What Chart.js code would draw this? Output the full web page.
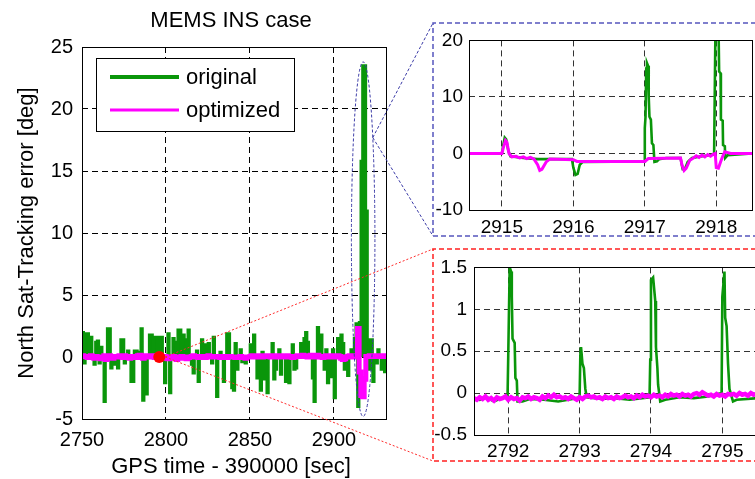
<!DOCTYPE html>
<html>
<head>
<meta charset="utf-8">
<title>MEMS INS case</title>
<script src="https://cdn.jsdelivr.net/npm/chart.js@4.4.1/dist/chart.umd.min.js"></script>
<style>
  html, body { margin: 0; padding: 0; background: #fff; overflow: hidden; }
  #wrap { position: relative; width: 755px; height: 479px; overflow: hidden; }
  canvas { position: absolute; }
</style>
</head>
<body>
<div id="wrap">
  <canvas id="main" width="755" height="479" style="left:0;top:0"></canvas>
  <canvas id="zoomTop" width="322" height="214" style="left:433px;top:23px"></canvas>
  <canvas id="zoomBottom" width="330" height="212" style="left:433px;top:249px"></canvas>
</div>
<script>
// ---------- main plot: one sample per second from 2750 s ----------
const mainStart = 2750;
const originalMain = [
  2.0, -0.5, 1.9, 1.9, 0, 1.6, 0, -0.6, 1.2, 1.3,
  -0.5, 0.8, 0, -3.6, 0, 2.3, 2.3, -0.9, 0, -0.6,
  0, -0.9, 0, 1.4, 1.4, -0.5, 0, 0.5, 0, -2.0,
  -2.0, 0.5, 0.5, 0, 0.4, 2.3, -3.5, 0, -3.0, 0,
  1.8, 1.8, 0, 1.6, 1.6, 1.6, 1.5, 1.6, 0, -2.1,
  0, 1.9, -2.9, 0, 1.5, 1.2, 0, 2.2, 2.2, 0,
  1.8, 1.4, 0, 2.2, 0, -0.6, -1.3, 0, 0.5, -2.0,
  0, 1.4, 0, 1.0, 0, 1.1, 0, -0.5, 1.6, 0,
  -3.2, 0, 0.4, 0, -2.0, 0, 1.9, 1.9, 0, -2.5,
  -2.7, 1.1, -1.0, 0, 0.6, -0.4, 0, -0.5, 0, 0,
  1.0, 0, 1.8, 0, -1.7, 0, -2.7, 0.4, -1.8, 0,
  -2.9, 0, 0, 1.1, -1.8, -1.0, 0, 0.6, -1.4, 0,
  0, -2.0, 0, -2.1, 0, 1.0, -1.0, -0.9, 0, 0,
  1.1, 0, 1.5, 2.0, 1.2, 0, 0, -1.7, -3.6, 0,
  2.4, 0, 1.8, 0, -1.0, 0.6, -2.1, 0, -1.6, 0.6,
  -3.3, 0, 1.5, 0, 1.8, 1.1, -1.0, 0, -1.5, 0,
  0.6, 0, 1.5, 2.7, -4.0, 2.8, 15.8, 23.5, 23.5, 11.8,
  1.4, -1.0, 1.4, -2.0, 0, -0.5, 0.6, 0, -1.0, 0, -1.2, -1.0
];
const optimizedMain = [
  0.1, 0.05, 0.05, -0.05, 0, 0.1, 0, -0.1, 0.05, 0,
  -0.1, -0.15, 0, 0.1, -0.2, 0, 0.1, 0, -0.1, 0.05,
  0, 0.05, 0.1, 0, -0.05, 0.1, 0.05, 0, -0.1, 0,
  0.05, 0, -0.05, 0.1, 0.15, 0, -0.1, 0.05, 0.1, 0,
  0.05, 0.1, 0, -0.05, 0.05, 0, 0.1, 0, 0, 0.05,
  -0.1, -0.15, -0.1, 0, 0.05, -0.1, -0.2, -0.1, 0, 0.05,
  0, -0.1, -0.15, -0.05, 0, 0.05, 0.1, 0.05, 0, -0.05,
  0, 0.05, 0, -0.05, 0.05, 0.1, 0.05, 0, 0.05, 0,
  0.05, 0, -0.05, 0, 0.05, 0, -0.05, 0, 0.05, 0,
  0, -0.05, -0.05, 0, 0.05, 0, -0.05, -0.1, 0, 0,
  0.05, 0.1, 0.05, 0, 0.05, 0.1, 0.05, 0, 0.05, 0.1,
  0.05, 0.1, 0, 0.05, 0.1, 0.05, 0, 0.05, 0.1, 0.05,
  0, 0.05, 0.1, 0.05, 0, -0.05, 0, 0.05, 0.1, 0.05,
  0.1, 0.15, 0.1, 0.05, 0, 0.1, 0.15, 0.05, 0, 0.1,
  0.15, 0.05, 0, -0.05, 0.05, 0.1, 0, 0.05, 0.1, 0.05,
  0, 0.05, 0.1, 0.05, -0.1, -0.2, -0.15, 0, 0.05, 0.1,
  0.05, 0, 0.05, 0.1, 2.3, -1.2, -3.1, -3.2, -1.8, 0.05,
  0.05, 0.1, 0.05, 0.1, 0.05, 0.1, 0.05, 0.1, 0.05, 0.1, 0.05, 0.1
];
const mainXTicks = [2750, 2800, 2850, 2900];
const mainYTicks = [-5, 0, 5, 10, 15, 20, 25];
const mainXRange = [2750, 2931];
const mainYRange = [-5, 25];
const seriesNames = ['original', 'optimized'];
const markedTime = 2796;      // red marker: start of the lower detail window
const burstCenter = [2917.4, 9.5];   // blue ellipse around the burst (time, deg)
const burstRadius = [7, 14.3];

// ---------- upper detail: 2914.5 .. 2918.5 s ----------
const topOrigTime = [
  2914.54, 2915.0, 2915.02, 2915.04, 2915.06, 2915.09, 2915.12, 2915.3, 2915.5, 2915.7,
  2915.98, 2916.0, 2916.03, 2916.06, 2916.09, 2916.13, 2916.99, 2917.0, 2917.01, 2917.02,
  2917.03, 2917.045, 2917.055, 2917.065, 2917.085, 2917.1, 2917.12, 2917.135, 2917.17, 2917.2,
  2917.3, 2917.5, 2917.53, 2917.56, 2917.6, 2917.66, 2917.8, 2917.96, 2917.97, 2917.99,
  2918.03, 2918.04, 2918.06, 2918.065, 2918.09, 2918.095, 2918.12, 2918.125, 2918.16, 2918.5
];
const topOrigValue = [
  0, 0, 1.5, 2.8, 2.5, 0.5, -0.5, -0.8, -1.0, -1.0,
  -1.0, -2.5, -3.8, -3.6, -2.0, -1.5, -1.4, 4.5, 6.5, 15.0,
  16.0, 15.5, 10.0, 6.5, 6.0, 1.8, 1.5, -1.5, -1.4, -1.0,
  -0.8, -0.8, -2.8, -2.8, -1.5, -0.8, -0.5, -0.2, 0, 24,
  24, 14.5, 14.2, 6.0, 5.8, 1.5, 1.3, -0.8, -0.3, 0
];
const topOptTime = [
  2914.54, 2915.0, 2915.02, 2915.05, 2915.07, 2915.1, 2915.14, 2915.2, 2915.25, 2915.3,
  2915.35, 2915.4, 2915.45, 2915.5, 2915.53, 2915.56, 2915.62, 2915.67, 2916.0, 2916.05,
  2917.0, 2917.05, 2917.5, 2917.52, 2917.55, 2917.58, 2917.63, 2917.68, 2917.72, 2917.76,
  2917.8, 2917.84, 2917.88, 2917.92, 2917.96, 2917.985, 2918.0, 2918.03, 2918.06, 2918.09,
  2918.12, 2918.15, 2918.2, 2918.5
];
const topOptValue = [
  0, 0, 1.0, 2.3, 2.0, 0, -0.6, -0.5, -0.8, -0.6,
  -0.9, -0.7, -1.0, -2.0, -3.0, -2.8, -1.5, -1.0, -1.1, -1.4,
  -1.4, -0.9, -0.8, -2.0, -3.0, -2.6, -1.2, -0.8, -0.4, -0.7,
  -0.3, -0.6, -0.2, -0.5, -0.1, 0, -2.5, -2.6, -1.5, -0.5,
  0.3, 0.2, 0, 0
];
const topXTicks = [2915, 2916, 2917, 2918];
const topYTicks = [-10, 0, 10, 20];
const topXRange = [2914.54, 2918.5];
const topYRange = [-10, 20];

// ---------- lower detail: 2791.5 .. 2795.5 s ----------
const bottomOrigTime = [
  2791.52, 2791.6, 2791.7, 2791.8, 2791.9, 2791.99, 2792.0, 2792.02, 2792.04, 2792.05,
  2792.06, 2792.09, 2792.1, 2792.12, 2792.13, 2792.2, 2792.3, 2792.5, 2792.7, 2792.9,
  2793.0, 2793.01, 2793.02, 2793.04, 2793.06, 2793.08, 2793.1, 2793.3, 2793.5, 2793.7,
  2793.98, 2793.99, 2794.0, 2794.03, 2794.06, 2794.07, 2794.09, 2794.1, 2794.13, 2794.2,
  2794.4, 2794.6, 2794.8, 2794.99, 2795.0, 2795.03, 2795.04, 2795.06, 2795.08, 2795.1,
  2795.15, 2795.2, 2795.5
];
const bottomOrigValue = [
  -0.07, -0.08, -0.05, -0.1, -0.06, -0.05, 0.45, 1.5, 1.45, 1.15,
  0.65, 0.6, 0.18, 0.15, -0.1, -0.1, -0.07, -0.08, -0.1, -0.07,
  -0.05, 0.45, 0.55, 0.35, 0.3, 0.05, -0.05, -0.07, -0.06, -0.08,
  -0.05, 0.4, 1.35, 1.38, 1.1, 0.55, 0.3, 0.1, -0.1, -0.08,
  -0.05, -0.06, -0.04, 0, 1.15, 1.45, 0.9, 0.8, 0.35, 0.05,
  -0.1, -0.08, -0.06
];
const bottomOptStart = 2791.52;
const bottomOptStep = 0.04;
const bottomOptValue = [
  -0.06, -0.08, -0.05, -0.07, -0.04, -0.08, -0.06, -0.09, -0.05, -0.07,
  -0.06, -0.04, -0.08, -0.05, -0.07, -0.06, -0.09, -0.05, -0.06, -0.04,
  -0.07, -0.05, -0.06, -0.08, -0.04, -0.06, -0.03, -0.05, -0.02, -0.05,
  -0.04, -0.06, -0.05, -0.07, -0.04, -0.06, -0.08, -0.05, -0.07, -0.04,
  -0.03, -0.05, -0.04, -0.06, -0.05, -0.07, -0.04, -0.06, -0.05, -0.07,
  -0.04, -0.06, -0.05, -0.03, -0.05, -0.04, -0.06, -0.03, -0.05, -0.02,
  -0.04, -0.03, -0.05, -0.02, -0.04, -0.03, -0.05, -0.02, -0.04, -0.01,
  -0.03, -0.02, -0.04, -0.01, -0.03, -0.02, -0.04, -0.01, 0.0, -0.02,
  0.01, -0.01, -0.03, -0.02, -0.04, -0.01, -0.03, -0.02, -0.04, -0.01,
  -0.02, -0.01, -0.03, 0.0, -0.02, -0.01, -0.03, 0.0, -0.02, -0.01
];
const bottomXTicks = [2792, 2793, 2794, 2795];
const bottomYTicks = [-0.5, 0, 0.5, 1, 1.5];
const bottomYLabels = ['-0.5', '0', '0.5', '1', '1.5'];
const bottomXRange = [2791.52, 2795.5];
const bottomYRange = [-0.5, 1.5];

// ---------- styling ----------
const FONT = '"Liberation Sans", Arial, Helvetica, sans-serif';
const GREEN = '#0a960a';
const MAGENTA = '#ff00ff';

const points = (xs, ys) => xs.map((x, i) => ({ x: x, y: ys[i] }));

// Linear axis with fixed ticks, dashed interior grid and a fixed thickness
function axis(range, tickValues, labels, size, pad, thickness, horizontal, gridColor) {
  return {
    type: 'linear',
    min: range[0],
    max: range[1],
    afterBuildTicks: s => { s.ticks = tickValues.map(v => ({ value: v })); },
    afterFit: s => { if (horizontal) s.height = thickness; else s.width = thickness; },
    ticks: {
      autoSkip: false,
      maxRotation: 0,
      padding: pad,
      color: '#000',
      font: { family: FONT, size: size },
      callback: v => labels ? labels[tickValues.indexOf(v)] : String(v)
    },
    grid: {
      drawTicks: false,
      lineWidth: 1,
      color: c => (c.tick && (c.tick.value === range[0] || c.tick.value === range[1])) ? 'rgba(0,0,0,0)' : gridColor
    },
    border: { display: false, dash: [6, 4] }
  };
}

// Solid frame around a plot area
const frame = {
  id: 'frame',
  afterDatasetsDraw(chart) {
    const a = chart.chartArea, ctx = chart.ctx;
    ctx.save();
    ctx.strokeStyle = '#000';
    ctx.lineWidth = 1;
    ctx.setLineDash([]);
    ctx.strokeRect(Math.round(a.left) + 0.5, Math.round(a.top) + 0.5,
                   Math.round(a.right - a.left), Math.round(a.bottom - a.top));
    ctx.restore();
  }
};

// Overview annotations: title, axis titles, legend, highlight marks and zoom boxes
const overview = {
  id: 'overview',
  afterDatasetsDraw(chart) {
    const ctx = chart.ctx, a = chart.chartArea;
    const xs = chart.scales.x, ys = chart.scales.y;
    ctx.save();

    // blue ellipse around the burst
    const cx = xs.getPixelForValue(burstCenter[0]);
    const cy = ys.getPixelForValue(burstCenter[1]);
    const rx = xs.getPixelForValue(burstCenter[0] + burstRadius[0]) - cx;
    const ry = cy - ys.getPixelForValue(burstCenter[1] + burstRadius[1]);
    ctx.strokeStyle = '#3a3aa6';
    ctx.lineWidth = 1;
    ctx.setLineDash([3, 2]);
    ctx.beginPath();
    ctx.ellipse(cx, cy, rx, ry, 0, 0, Math.PI * 2);
    ctx.stroke();

    // blue connectors from the ellipse to the upper detail box
    const ang = Math.asin(0.573);
    const ex = cx + rx * Math.cos(ang), ey = cy - ry * Math.sin(ang);
    const topBox = { left: 433, top: 23, bottom: 236 };
    ctx.beginPath();
    ctx.moveTo(ex, ey); ctx.lineTo(topBox.left, topBox.top);
    ctx.moveTo(ex, ey); ctx.lineTo(topBox.left, topBox.bottom);
    ctx.stroke();

    // red connectors from the marker to the lower detail box
    const mx = xs.getPixelForValue(markedTime) + 6, my = ys.getPixelForValue(0);
    const botBox = { left: 433, top: 249, bottom: 461 };
    ctx.strokeStyle = '#ff2a2a';
    ctx.setLineDash([2, 2]);
    ctx.beginPath();
    ctx.moveTo(mx, my); ctx.lineTo(botBox.left, botBox.top);
    ctx.moveTo(mx, my); ctx.lineTo(botBox.left, botBox.bottom);
    ctx.stroke();

    // dashed detail boxes
    ctx.lineWidth = 1.5;
    ctx.setLineDash([5, 3]);
    ctx.strokeStyle = '#5656bd';
    ctx.beginPath();
    ctx.moveTo(780, topBox.top); ctx.lineTo(topBox.left, topBox.top);
    ctx.lineTo(topBox.left, topBox.bottom); ctx.lineTo(780, topBox.bottom);
    ctx.stroke();
    ctx.strokeStyle = '#ff2020';
    ctx.beginPath();
    ctx.moveTo(780, botBox.top); ctx.lineTo(botBox.left, botBox.top);
    ctx.lineTo(botBox.left, botBox.bottom); ctx.lineTo(780, botBox.bottom);
    ctx.stroke();

    // legend
    ctx.setLineDash([]);
    ctx.fillStyle = '#fff';
    ctx.fillRect(96, 58, 198, 73);
    ctx.strokeStyle = '#000';
    ctx.lineWidth = 1;
    ctx.strokeRect(96.5, 58.5, 198, 73);
    const rows = [{ y: 77, color: GREEN, w: 4 }, { y: 110, color: MAGENTA, w: 3 }];
    ctx.font = '22px ' + FONT;
    ctx.textBaseline = 'alphabetic';
    ctx.textAlign = 'left';
    rows.forEach((r, i) => {
      ctx.strokeStyle = r.color;
      ctx.lineWidth = r.w;
      ctx.beginPath();
      ctx.moveTo(110, r.y); ctx.lineTo(179, r.y);
      ctx.stroke();
      ctx.fillStyle = '#000';
      ctx.fillText(seriesNames[i], 186, r.y + 7);
    });

    // title and axis titles
    const midX = (a.left + a.right) / 2;
    ctx.textAlign = 'center';
    ctx.fillText('MEMS INS case', midX - 3, 27);
    ctx.fillText('GPS time - 390000 [sec]', midX - 3, 473);
    ctx.translate(33, (a.top + a.bottom) / 2);
    ctx.rotate(-Math.PI / 2);
    ctx.fillText('North Sat-Tracking error [deg]', 0, 0);
    ctx.restore();
  }
};

const baseOptions = {
  responsive: false,
  animation: false,
  events: [],
  plugins: { legend: { display: false }, tooltip: { enabled: false }, title: { display: false } }
};

// overview chart: the densely sampled error trace reads as solid bars from zero
new Chart(document.getElementById('main'), {
  type: 'line',
  data: {
    datasets: [
      {
        label: seriesNames[0],
        data: originalMain.map((v, i) => ({ x: mainStart + i, y: v })),
        borderColor: GREEN, backgroundColor: GREEN, fill: 'origin',
        borderWidth: 2.6, pointRadius: 0, stepped: 'before', order: 3
      },
      {
        label: seriesNames[1],
        data: optimizedMain.map((v, i) => ({ x: mainStart + i, y: v })),
        borderColor: MAGENTA, borderWidth: 5, pointRadius: 0, stepped: 'before', order: 2
      },
      {
        type: 'scatter',
        label: 'marker',
        data: [{ x: markedTime, y: 0 }],
        pointRadius: 6, pointBackgroundColor: '#ff0000', pointBorderWidth: 0, order: 1
      }
    ]
  },
  options: Object.assign({}, baseOptions, {
    layout: { padding: { top: 47, right: 369, left: 0, bottom: 0 } },
    scales: {
      x: axis(mainXRange, mainXTicks, null, 20, 9, 60, true, '#000'),
      y: axis(mainYRange, mainYTicks, null, 20, 9, 82, false, '#000')
    }
  }),
  plugins: [frame, overview]
});

// upper detail chart
new Chart(document.getElementById('zoomTop'), {
  type: 'line',
  data: {
    datasets: [
      {
        label: seriesNames[0], data: points(topOrigTime, topOrigValue),
        borderColor: GREEN, borderWidth: 2.6, pointRadius: 0, clip: 0, order: 2
      },
      {
        label: seriesNames[1], data: points(topOptTime, topOptValue),
        borderColor: MAGENTA, borderWidth: 3, pointRadius: 0, clip: 0, order: 1
      }
    ]
  },
  options: Object.assign({}, baseOptions, {
    layout: { padding: { top: 15, right: 3, left: 0, bottom: 0 } },
    scales: {
      x: axis(topXRange, topXTicks, null, 19, 6, 27, true, '#333'),
      y: axis(topYRange, topYTicks, null, 19, 6, 36, false, '#333')
    }
  }),
  plugins: [frame]
});

// lower detail chart
new Chart(document.getElementById('zoomBottom'), {
  type: 'line',
  data: {
    datasets: [
      {
        label: seriesNames[0], data: points(bottomOrigTime, bottomOrigValue),
        borderColor: GREEN, borderWidth: 2.6, pointRadius: 0, clip: 0, order: 2
      },
      {
        label: seriesNames[1],
        data: bottomOptValue.map((v, i) => ({ x: bottomOptStart + i * bottomOptStep, y: v })),
        borderColor: MAGENTA, borderWidth: 4.5, pointRadius: 0, clip: 0, order: 1
      }
    ]
  },
  options: Object.assign({}, baseOptions, {
    layout: { padding: { top: 15, right: 5, left: 0, bottom: 0 } },
    scales: {
      x: axis(bottomXRange, bottomXTicks, null, 19, 5, 26, true, '#333'),
      y: axis(bottomYRange, bottomYTicks, bottomYLabels, 19, 7, 41, false, '#333')
    }
  }),
  plugins: [frame]
});
</script>
</body>
</html>
